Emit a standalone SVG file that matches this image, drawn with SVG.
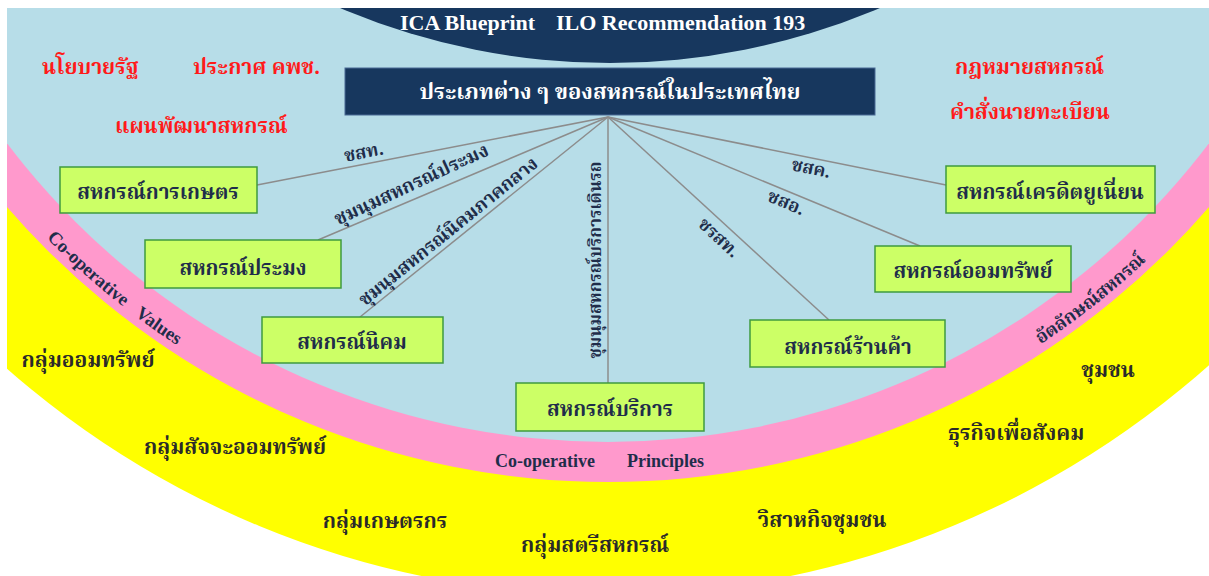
<svg xmlns="http://www.w3.org/2000/svg" xmlns:xlink="http://www.w3.org/1999/xlink" width="1209" height="576" viewBox="0 0 1209 576">
<defs>
<clipPath id="frame"><rect x="7" y="8" width="1202" height="568"/></clipPath>
<path id="arcMid" d="M -130.6 -43.2 A 786 786 0 0 0 1346.6 -43.2" fill="none"/>
<style>
.th{font-family:"Noto Serif Thai","Noto Sans Thai Looped","Noto Sans Thai","Tlwg Typo",sans-serif;font-weight:bold}
.red{fill:#ff1a1a;font-size:21px}
.box rect{fill:#ccff66;stroke:#3f9a3f;stroke-width:1.5}
.box text{fill:#1f2d4a;font-size:20.5px;text-anchor:middle}
.lbl{fill:#1f2d4a;font-size:18px;text-anchor:middle}
.yel{fill:#2a2a2a;font-size:21px;text-anchor:middle}
.en{font-family:"Liberation Serif","Times New Roman",serif;font-weight:bold}
.conn line{stroke:#8c8c8c;stroke-width:1.5}
</style>
</defs>
<rect x="0" y="0" width="1209" height="576" fill="#ffffff"/>
<g id="background" clip-path="url(#frame)">
<circle cx="606" cy="-311" r="906" fill="#ffff00"/>
<circle cx="608" cy="-312" r="794" fill="#ff99cc"/>
<circle cx="608" cy="-312" r="754" fill="#b7dde8"/>
<circle cx="610" cy="-627" r="690" fill="#17375e"/>
</g>
<text class="en" x="400" y="30" font-size="22" fill="#ffffff">ICA Blueprint</text>
<text class="en" x="556" y="30" font-size="22" fill="#ffffff">ILO Recommendation 193</text>

<g id="title">
<rect x="345" y="68" width="530" height="47" fill="#17375e" stroke="#4a6a94" stroke-width="1"/>
<text class="th" x="610" y="99" font-size="22" fill="#ffffff" text-anchor="middle">ประเภทต่าง ๆ ของสหกรณ์ในประเทศไทย</text>
</g>

<g id="red-labels" class="th red">
<text x="42" y="74">นโยบายรัฐ</text>
<text x="193" y="74">ประกาศ คพช.</text>
<text x="115" y="133">แผนพัฒนาสหกรณ์</text>
<text x="955" y="74">กฎหมายสหกรณ์</text>
<text x="950" y="119">คำสั่งนายทะเบียน</text>
</g>

<g id="connectors" class="conn">
<line x1="608" y1="117" x2="257" y2="185"/>
<line x1="608" y1="117" x2="318" y2="240"/>
<line x1="608" y1="117" x2="360" y2="317"/>
<line x1="608" y1="117" x2="608" y2="383"/>
<line x1="608" y1="117" x2="829" y2="320"/>
<line x1="608" y1="117" x2="920" y2="246"/>
<line x1="608" y1="117" x2="946" y2="185"/>
</g>

<g id="connector-labels" class="th lbl">
<text transform="translate(365,158) rotate(-11)">ชสท.</text>
<text transform="translate(414,190) rotate(-25)" font-size="19">ชุมนุมสหกรณ์ประมง</text>
<text transform="translate(452,236) rotate(-39)" font-size="18.5">ชุมนุมสหกรณ์นิคมภาคกลาง</text>
<text transform="translate(601,260) rotate(-90)" font-size="17">ชุมนุมสหกรณ์บริการเดินรถ</text>
<text transform="translate(810,174) rotate(12)">ชสค.</text>
<text transform="translate(784,208) rotate(23)">ชสอ.</text>
<text transform="translate(715,242) rotate(43)">ชรสท.</text>
</g>

<g id="n-agri" class="box th"><rect x="60" y="167" width="197" height="46"/><text x="158" y="199">สหกรณ์การเกษตร</text></g>
<g id="n-fish" class="box th"><rect x="145" y="240" width="196" height="48"/><text x="243" y="275">สหกรณ์ประมง</text></g>
<g id="n-settle" class="box th"><rect x="262" y="317" width="181" height="46"/><text x="352" y="349">สหกรณ์นิคม</text></g>
<g id="n-service" class="box th"><rect x="516" y="383" width="188" height="48"/><text x="610" y="416">สหกรณ์บริการ</text></g>
<g id="n-shop" class="box th"><rect x="750" y="320" width="195" height="47"/><text x="848" y="354">สหกรณ์ร้านค้า</text></g>
<g id="n-saving" class="box th"><rect x="875" y="246" width="196" height="46"/><text x="973" y="278">สหกรณ์ออมทรัพย์</text></g>
<g id="n-credit" class="box th"><rect x="946" y="166" width="209" height="47"/><text x="1050" y="199">สหกรณ์เครดิตยูเนี่ยน</text></g>

<g id="band-labels">
<text class="en" font-size="18.5" fill="#1f2d4a"><textPath xlink:href="#arcMid" startOffset="335">Co-operative</textPath></text>
<text class="en" font-size="18.5" fill="#1f2d4a"><textPath xlink:href="#arcMid" startOffset="452">Values</textPath></text>
<text class="en" x="495" y="467" font-size="18" fill="#1f2d4a">Co-operative</text>
<text class="en" x="627" y="467" font-size="18" fill="#1f2d4a">Principles</text>
<text class="th" font-size="18" fill="#1f2d4a"><textPath xlink:href="#arcMid" startOffset="1418">อัตลักษณ์สหกรณ์</textPath></text>
</g>

<g id="outer-labels" class="th yel">
<text x="88" y="367">กลุ่มออมทรัพย์</text>
<text x="235" y="454">กลุ่มสัจจะออมทรัพย์</text>
<text x="385" y="528">กลุ่มเกษตรกร</text>
<text x="595" y="552">กลุ่มสตรีสหกรณ์</text>
<text x="822" y="527">วิสาหกิจชุมชน</text>
<text x="1016" y="440">ธุรกิจเพื่อสังคม</text>
<text x="1108" y="377">ชุมชน</text>
</g>
</svg>
